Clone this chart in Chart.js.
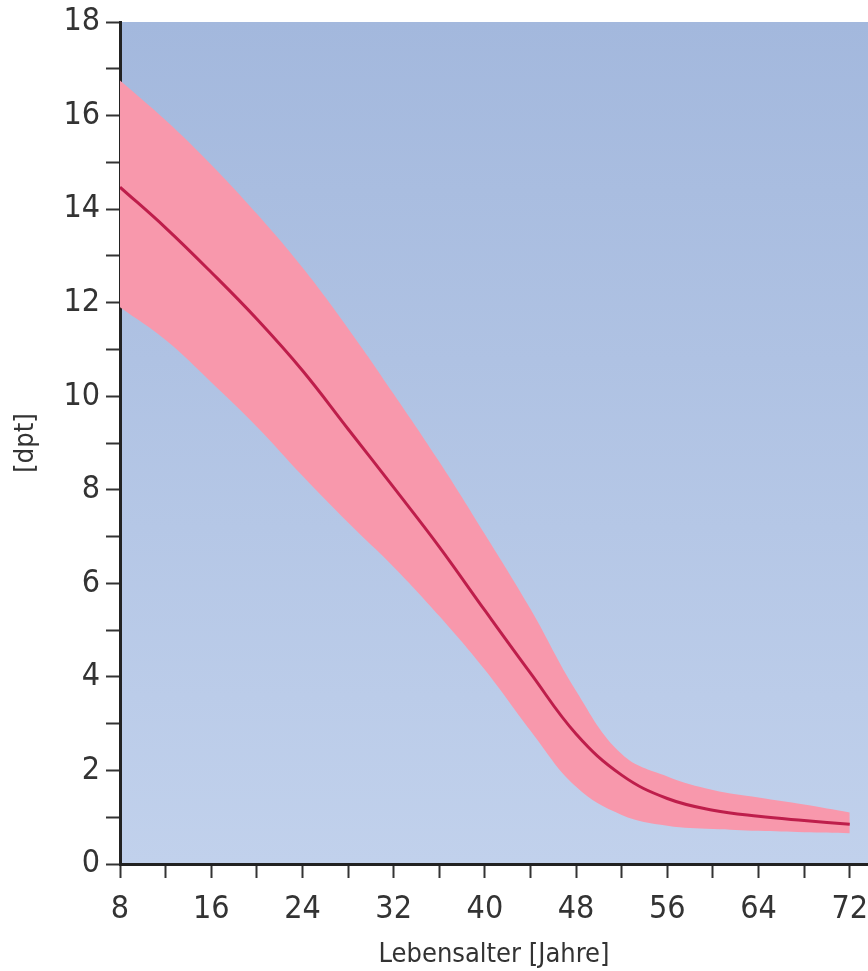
<!DOCTYPE html>
<html>
<head>
<meta charset="utf-8">
<script src="https://cdn.jsdelivr.net/npm/chart.js@4/dist/chart.umd.min.js"></script>
<style>
  html, body { margin: 0; padding: 0; background: #fff; }
  #wrap { width: 868px; height: 971px; }
</style>
</head>
<body>
<div id="wrap"><canvas id="myChart"></canvas></div>
<script>
// Lebensalter in Jahren
var ages = [8, 12, 16, 20, 24, 28, 32, 36, 40, 44, 48, 52, 56, 60, 64, 68, 72];
// Akkommodationsbreite [dpt]
var meanDpt  = [14.47, 13.6, 12.65, 11.65, 10.55, 9.3, 8.05, 6.78, 5.42, 4.08, 2.78, 1.9, 1.4, 1.15, 1.02, 0.93, 0.85];
var upperDpt = [16.75, 15.9, 14.95, 13.9, 12.75, 11.45, 10.05, 8.6, 7.05, 5.45, 3.7, 2.35, 1.87, 1.58, 1.42, 1.27, 1.1];
var lowerDpt = [11.9, 11.2, 10.3, 9.35, 8.3, 7.3, 6.35, 5.3, 4.15, 2.85, 1.65, 1.05, 0.82, 0.75, 0.71, 0.68, 0.66];

var xTicks = [8, 12, 16, 20, 24, 28, 32, 36, 40, 44, 48, 52, 56, 60, 64, 68, 72];
var yTicks = [0, 1, 2, 3, 4, 5, 6, 7, 8, 9, 10, 11, 12, 13, 14, 15, 16, 17, 18];

var fontFamily = "'Liberation Sans Narrow', 'DejaVu Sans Condensed', sans-serif";

function pts(vals) {
  return ages.map((a, i) => ({ x: a, y: vals[i] }));
}

// blue gradient behind the plot
var plotBackground = {
  id: 'plotBackground',
  beforeDraw(chart) {
    var a = chart.chartArea;
    var ctx = chart.ctx;
    var g = ctx.createLinearGradient(0, a.top, 0, a.bottom);
    g.addColorStop(0, 'rgb(163,184,221)');
    g.addColorStop(1, 'rgb(193,209,236)');
    ctx.save();
    ctx.fillStyle = g;
    ctx.fillRect(a.left, a.top, a.right - a.left, a.bottom - a.top);
    ctx.restore();
  }
};

var ctx = document.getElementById('myChart').getContext('2d');
var myChart = new Chart(ctx, {
  type: 'line',
  data: {
    datasets: [{
      label: 'Mittelwert',
      data: pts(meanDpt),
      borderColor: 'rgb(190,30,75)',
      borderWidth: 3,
      pointRadius: 0,
      tension: 0.4,
      fill: false
    }, {
      label: 'Obergrenze',
      data: pts(upperDpt),
      borderWidth: 0,
      borderColor: 'rgba(0,0,0,0)',
      backgroundColor: 'rgb(248,152,172)',
      pointRadius: 0,
      tension: 0.4,
      fill: '+1'
    }, {
      label: 'Untergrenze',
      data: pts(lowerDpt),
      borderWidth: 0,
      borderColor: 'rgba(0,0,0,0)',
      pointRadius: 0,
      tension: 0.4,
      fill: false
    }]
  },
  options: {
    responsive: true,
    maintainAspectRatio: false,
    animation: false,
    layout: { padding: { top: 22, right: 0, left: 0, bottom: 0 } },
    plugins: {
      legend: { display: false },
      tooltip: { enabled: false }
    },
    scales: {
      x: {
        type: 'linear',
        min: 8,
        max: 73.6,
        afterBuildTicks: scale => { scale.ticks = xTicks.map(v => ({ value: v })); },
        afterFit: scale => { scale.height = 107; scale.paddingRight = 0; scale.paddingLeft = 0; },
        grid: { drawOnChartArea: false, tickLength: 14, tickColor: '#333', tickWidth: 2 },
        border: { color: '#222', width: 3 },
        ticks: {
          autoSkip: false,
          maxRotation: 0,
          padding: 12,
          color: '#333',
          font: { family: fontFamily, size: 32 },
          callback: v => (v % 8 === 0 ? String(v) : '')
        },
        title: {
          display: true,
          text: 'Lebensalter [Jahre]',
          color: '#333',
          font: { family: fontFamily, size: 27 },
          padding: { top: 0, bottom: 0 }
        }
      },
      y: {
        min: 0,
        max: 18,
        afterBuildTicks: scale => { scale.ticks = yTicks.map(v => ({ value: v })); },
        afterFit: scale => { scale.width = 120; scale.paddingTop = 0; scale.paddingBottom = 0; },
        grid: { drawOnChartArea: false, tickLength: 14, tickColor: '#333', tickWidth: 2 },
        border: { color: '#222', width: 3 },
        ticks: {
          autoSkip: false,
          padding: 6,
          color: '#333',
          font: { family: fontFamily, size: 32 },
          callback: v => (v % 2 === 0 ? String(v) : '')
        },
        title: {
          display: true,
          text: '[dpt]',
          color: '#333',
          font: { family: fontFamily, size: 27 },
          padding: { top: 10, bottom: 0 }
        }
      }
    }
  },
  plugins: [plotBackground]
});
</script>
</body>
</html>
